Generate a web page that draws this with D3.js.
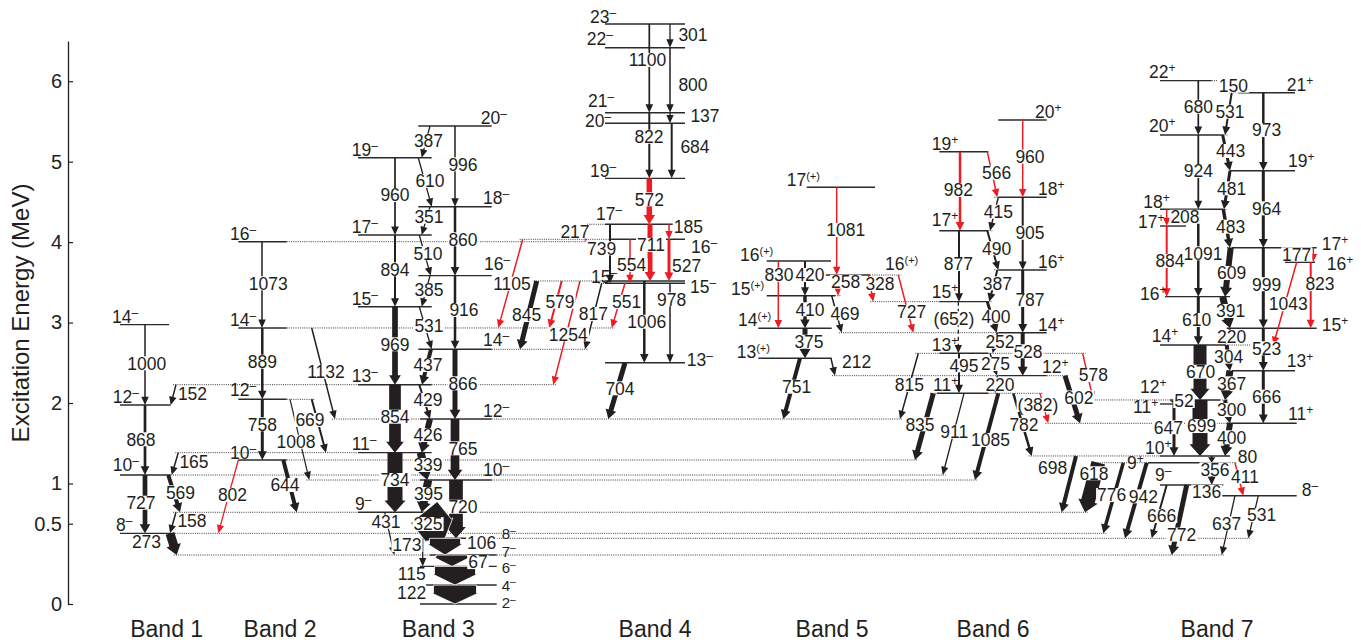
<!DOCTYPE html>
<html>
<head>
<meta charset="utf-8">
<script src="https://cdn.jsdelivr.net/npm/d3@7"></script>
<style>
  body { margin: 0; background: #fff; }
  svg { display: block; font-family: "Liberation Sans", Arial, Helvetica, sans-serif; }
</style>
</head>
<body>
<svg id="chart" width="1361" height="643"></svg>
<script>
// ---------- axis ----------
const tickValues = [0, 0.5, 1, 2, 3, 4, 5, 6];
const bandNames = ["Band 1", "Band 2", "Band 3", "Band 4", "Band 5", "Band 6", "Band 7"];

// ---------- levels: id, spin-parity, excitation energy (MeV) ----------
const band1Levels = [["b1_14","14-",2.974],["b1_12","12-",1.975],["b1_10","10-",1.105],["b1_8","8-",0.440]];
const band2Levels = [["b2_16","16-",4.005],["b2_14","14-",2.933],["b2_12","12-",2.046],["b2_10","10-",1.292]];
const band3Levels = [
  ["b3_20","20-",5.443],["b3_19","19-",5.049],["b3_18","18-",4.440],["b3_17","17-",4.089],
  ["b3_16","16-",3.583],["b3_15","15-",3.197],["b3_14","14-",2.668],["b3_13","13-",2.228],
  ["b3_12","12-",1.801],["b3_11","11-",1.383],["b3_10","10-",1.043],["b3_9","9-",0.642],
  ["b3_8","8-",0.409],["b3_7","7-",0.305],["b3_6","6-",0.234],["b3_4","4-",0.118],["b3_2","2-",0]
];
const band4Levels = [
  ["b4_23","23-",6.711],["b4_22","22-",6.417],["b4_21","21-",5.609],["b4_20","20-",5.477],
  ["b4_19","19-",4.793],["b4_17","17-",4.222],["b4_16","16-",4.035],["b4_15a","15-",3.517],
  ["b4_15b","15-",3.489],["b4_13","13-",2.501]
];
const band5Levels = [
  ["b5_17","17(+)",4.682],["b5_16a","16(+)",3.765],["b5_16b","16(+)",3.591],
  ["b5_15","15(+)",3.334],["b5_14","14(+)",2.929],["b5_13","13(+)",2.556]
];
const band6Levels = [
  ["b6_20","20+",5.518],["b6_19","19+",5.124],["b6_18","18+",4.557],["b6_17","17+",4.142],
  ["b6_16","16+",3.654],["b6_15","15+",3.260],["b6_14","14+",2.874],["b6_13","13+",2.618],
  ["b6_12","12+",2.340],["b6_11","11+",2.121]
];
const band7Levels = [
  ["b7_22","22+",6.007],["b7_21","21+",5.857],["b7_20","20+",5.332],["b7_19","19+",4.888],
  ["b7_18","18+",4.408],["b7_17a","17+",4.200],["b7_17b","17+",3.931],["b7_16b","16+",3.749],
  ["b7_16a","16+",3.322],["b7_15","15+",2.929],["b7_14","14+",2.721],["b7_13","13+",2.402],
  ["b7_12","12+",2.038],["b7_11a","11+",1.988],["b7_11b","11+",1.748],["b7_10","10+",1.342],
  ["b7_9p","9+",1.258],["b7_9m","9-",0.981],["b7_8m","8-",0.848]
];

// ---------- gamma transitions: label, from, to, relative intensity, new (red), tentative ----------
const band1Gammas = [
  ["1000","b1_14","b1_12",1.5,0],["868","b1_12","b1_10",2.7,0],["727","b1_10","b1_8",4.7,0],
  ["152","b3_13","b1_12",1.5,0],["165","b3_11","b1_10",1.5,0],["569","b1_10","b3_9",4,0],
  ["158","b3_9","b1_8",1.5,0],["273","b1_8","b3_7",9,0]
];
const band2Gammas = [
  ["1073","b2_16","b2_14",1.5,0],["889","b2_14","b2_12",2.5,0],["758","b2_12","b2_10",3,0],
  ["1132","b2_14","b3_12",1.5,0],["669","b2_12","b3_11",2,0],["1008","b2_12","b3_10",1.2,0],
  ["644","b2_10","b3_9",4,0],["802","b2_10","b1_8",1.3,1]
];
const band3Gammas = [
  ["960","b3_19","b3_17",1.7,0],["894","b3_17","b3_15",2,0],["969","b3_15","b3_13",5.7,0],
  ["854","b3_13","b3_11",11.7,0],["734","b3_11","b3_9",15,0],
  ["996","b3_20","b3_18",1.5,0],["860","b3_18","b3_16",2.5,0],["916","b3_16","b3_14",2.5,0],
  ["866","b3_14","b3_12",5,0],["765","b3_12","b3_10",8.7,0],["720","b3_10","b3_8",13.7,0],
  ["387","b3_20","b3_19",1.3,0],["610","b3_19","b3_18",1.3,0],["351","b3_18","b3_17",1.3,0],
  ["510","b3_17","b3_16",1.3,0],["385","b3_16","b3_15",1.3,0],["531","b3_15","b3_14",1.3,0],
  ["437","b3_14","b3_13",4,0],["429","b3_13","b3_12",2,0],["426","b3_12","b3_11",6,0],
  ["339","b3_11","b3_10",8,0],["395","b3_10","b3_9",8,0],["325","b3_9","b3_8",34,0],
  ["431","b3_9","b3_7",1.3,0],["173","b3_8","b3_6",1.3,0],["106","b3_8","b3_7",31,0],
  ["67","b3_7","b3_6",32,0],["115","b3_6","b3_4",41,0],["122","b3_4","b3_2",43,0]
];
const band4Gammas = [
  ["301","b4_23","b4_22",1.3,0],["1100","b4_23","b4_21",1.7,0],["800","b4_22","b4_21",1.5,0],
  ["137","b4_21","b4_20",1.3,0],["822","b4_21","b4_19",2,0],["684","b4_20","b4_19",2,0],
  ["572","b4_19","b4_17",5.5,1],["711","b4_17","b4_15a",5,1],["185","b4_17","b4_16",1.5,1],
  ["527","b4_16","b4_15a",3,1],["554","b4_16","b4_15b",1.5,1],["739","b4_17","b4_15b",2,0],
  ["217","b4_17","b2_16",1.5,1],["1006","b4_15a","b4_13",2.5,0],["978","b4_15b","b4_13",1.5,0],
  ["704","b4_13","b3_12",5,0],["551","b4_15b","b2_14",1.5,1],["817","b4_15b","b3_14",1.5,0],
  ["1254","b4_15a","b3_13",1.5,1],["579","b4_15a","b2_14",2,1],["845","b4_15a","b3_14",5,0],
  ["1105","b4_16","b2_14",1.5,1]
];
const band5Gammas = [
  ["1081","b5_17","b5_16b",1.5,1],["830","b5_16a","b5_14",1.5,1],["420","b5_16a","b5_15",2,0],
  ["258","b5_16b","b5_15",1.5,1],["328","b5_16b","b6_15",1.5,1],["727","b5_16b","b6_14",1.5,1],
  ["410","b5_15","b5_14",3.5,0],["469","b5_15","b6_14",1.5,0],["375","b5_14","b5_13",5,0],
  ["212","b5_13","b6_12",1.5,0],["751","b5_13","b3_12",4,0]
];
const band6Gammas = [
  ["960","b6_20","b6_18",1.5,1],["982","b6_19","b6_17",2.5,1],["566","b6_19","b6_18",1.5,1],
  ["905","b6_18","b6_16",2,0],["415","b6_18","b6_17",1.5,0],["877","b6_17","b6_15",2,0],
  ["490","b6_17","b6_16",2,0],["787","b6_16","b6_14",3,0],["387","b6_16","b6_15",2,0],
  ["(652)","b6_15","b6_13",1.3,0,1],["400","b6_15","b6_14",3,0],["528","b6_14","b6_12",4,0],
  ["252","b6_14","b6_13",2,0],["495","b6_13","b6_11",2,0],["275","b6_13","b6_12",1.5,0],
  ["220","b6_12","b6_11",1.5,0],["815","b6_13","b3_12",1.5,0],["835","b6_11","b2_10",5,0],
  ["911","b6_11","b1_10",1.3,0],["1085","b6_11","b3_10",4,0],["782","b6_11","b7_10",2.5,0],
  ["(382)","b6_11","b7_11b",1.3,1],["602","b6_12","b7_11b",5,0],["578","b6_13","b7_12",1.5,1]
];
const band7Gammas = [
  ["680","b7_22","b7_20",1.7,0],["150","b7_22","b7_21",1.2,0],["531","b7_21","b7_20",2,0],
  ["973","b7_21","b7_19",2.5,0],["443","b7_20","b7_19",3,0],["924","b7_20","b7_18",1.8,0],
  ["964","b7_19","b7_17b",3,0],["481","b7_19","b7_18",3,0],["208","b7_18","b7_17a",1.5,1],
  ["884","b7_17a","b7_16a",2,1],["1091","b7_18","b7_16a",2.5,0],["483","b7_18","b7_17b",3.5,0],
  ["609","b7_17b","b7_16a",6,0],["177","b7_17b","b7_16b",1.5,1],["823","b7_16b","b7_15",2,1],
  ["1043","b7_16b","b7_14",1.5,1],["999","b7_17b","b7_15",3,0],["391","b7_16a","b7_15",7,0],
  ["610","b7_16a","b7_14",3,0],["220","b7_15","b7_14",2,0],["523","b7_15","b7_13",3,0],
  ["670","b7_14","b7_12",13,0],["304","b7_14","b7_13",4,0],["367","b7_13","b7_12",7,0],
  ["666","b7_13","b7_11b",3,0],["52","b7_12","b7_11a",1.3,0],["699","b7_12","b7_10",15,0],
  ["300","b7_12","b7_11b",4,0],["647","b7_11a","b7_10",3,0],["400","b7_11b","b7_10",6,0],
  ["80","b7_10","b7_9p",1.3,0],["356","b7_9p","b7_9m",2,0],["136","b7_9m","b7_8m",1.5,0],
  ["698","b7_10","b3_9",4,0],["618","b7_9p","b3_9",14,0],["776","b7_9p","b1_8",3.5,0],
  ["942","b7_9p","b3_8",4,0],["666","b7_9m","b3_8",2,0],["772","b7_9m","b3_7",5,0],
  ["637","b7_8m","b3_7",1.3,0],["531","b7_8m","b3_8",1.3,0],["411","b7_9p","b7_8m",1.5,1]
];

// ---------- layout (horizontal placement of the scheme) ----------
// level: [line start, line end, spin label x, spin label baseline offset, optional label size]
const levelLayout = {
  b1_14:[120,169,112,-2], b1_12:[120,170.7,112.7,-2], b1_10:[120,170.7,112.7,-3.7], b1_8:[120,170.7,116,-2.7],
  b2_16:[238.3,286.7,230,-2.1], b2_14:[238.3,286.7,230,-2.4], b2_12:[238.3,286.7,230,-3], b2_10:[238.3,286.7,230,-1],
  b3_20:[418.3,491.7,480.7,-2.4], b3_19:[358,431.7,351.7,-2.1], b3_18:[418.3,491.7,483,-3], b3_17:[358,431.7,351.7,-2],
  b3_16:[418.3,491.7,484,-5.5], b3_15:[358,431.7,351.7,-2.1], b3_14:[418.3,491.7,483,-3], b3_13:[358,431.7,351.7,-2.4],
  b3_12:[420,491.7,483,-2], b3_11:[358,431.7,351.7,-2.4], b3_10:[420,491.7,483,-3.7], b3_9:[358,445,355,-2.7],
  b3_8:[426,496.7,501.7,1,15], b3_7:[430,496.7,501.7,1.5,15], b3_6:[420,496.7,501.7,7,15],
  b3_4:[426,496.7,501.7,5.5,15], b3_2:[420,496.7,501.7,4.2,15],
  b4_23:[605,685,590,-0.7], b4_22:[605,685,586.7,-2.4], b4_21:[605,685,588,-5.5], b4_20:[605,685,585,4],
  b4_19:[605,685,590,-1], b4_17:[605,685,596,-4], b4_16:[610,685,691,13.5], b4_15a:[605,685,591,2],
  b4_15b:[605,685,690,10], b4_13:[605,685,686.7,2.9],
  b5_17:[806.7,875,786.7,-1], b5_16a:[766.7,831,740,0.3], b5_16b:[825,870,885,-5],
  b5_15:[766.7,835,731,-0.6], b5_14:[758.3,831.7,738,-2], b5_13:[758.3,831.7,736.7,-0.3],
  b6_20:[998.3,1046.7,1035,-2], b6_19:[939.3,988.3,931.7,-2.1], b6_18:[998.3,1046.7,1038,-2.7], b6_17:[939.3,988.3,931.7,-4.4],
  b6_16:[998.3,1046.7,1038,-2], b6_15:[939.3,988.3,931.7,-3.7], b6_14:[998.3,1046.7,1038,-1.4], b6_13:[939.3,988.3,931.7,-2.5],
  b6_12:[998.3,1046.7,1042,-2.2], b6_11:[936.7,988.3,933,-2],
  b7_22:[1160,1211.7,1149,-2.7], b7_21:[1238.3,1295,1286.7,-2.1], b7_20:[1160,1223.3,1149,-3], b7_19:[1230,1295,1288,-3.4],
  b7_18:[1160,1223.3,1143.3,-1.3], b7_17a:[1160,1186,1138,2], b7_17b:[1231.7,1316.7,1321.7,2], b7_16b:[1285,1315,1326.7,7.3],
  b7_16a:[1165,1230,1140,3], b7_15:[1226.7,1316.7,1321.7,3], b7_14:[1160,1225,1151.7,-2.7], b7_13:[1231.7,1295,1286.7,-3.7],
  b7_12:[1170,1220,1140,-6.5], b7_11a:[1160,1183.3,1133,9], b7_11b:[1226.7,1296.7,1288,-3.7], b7_10:[1160,1230,1145,-1.8],
  b7_9p:[1148,1230,1127,5.8], b7_9m:[1160,1223.3,1155,-3.7], b7_8m:[1205,1296.7,1301.7,0.6]
};
// transition: [x at upper level, x at lower level, label x, label energy]
const band1GammaPos = [[145,145,146.7,2.494],[145,145,141,1.549],[145,145,141,0.761],[176,170.7,192.5,2.121],
  [178.3,171.7,194,1.271],[168.3,180,180.5,0.890],[176,170,192,0.537],[170,176.7,146.5,0.388]];
const band2GammaPos = [[262,262,268.3,3.488],[262.3,262.3,262.3,2.514],[262.3,262.3,262.3,1.736],[311.7,335,326,2.389],
  [311.7,326,310,1.789],[290,309.3,296,1.519],[283.3,296.7,285,0.981],[238.3,218.3,232.5,0.857]];
const band3GammaPos = [[395,395,395,4.586],[395,395,395,3.662],[395,395,395,2.730],[395,395,395,1.830],[395,395,395,1.043],
  [455,455,463,4.967],[455,455,463,4.035],[455,455,464,3.156],[455,455,463,2.245],[455,455,463,1.437],[456,456,463,0.711],
  [430,421.7,428.5,5.261],[418.3,431.7,430,4.760],[430,421.7,429,4.316],[419.3,430.7,428,3.861],[430,421.7,429,3.405],
  [419.3,431.7,429,2.957],[431,422,428,2.473],[419.3,430,428,2.038],[430,421.7,428,1.603],[420.7,427.3,428,1.230],
  [428.3,421.7,428.5,0.869],[424,445,428,0.498],[384.7,394.3,386,0.525],[422.7,422.7,407,0.367],[445,445,481.7,0.384],
  [452,452,478,0.261],[455,455,411.7,0.187],[455,455,411.7,0.070]];
const band4GammaPos = [[670,670,693,6.575],[649.3,649.3,647.5,6.264],[670,670,693,5.953],[670,670,705,5.568],
  [649.3,649.3,649,5.310],[671.7,671.7,695,5.186],[649.3,649.3,649.3,4.532],[650,650,651,3.964],[669,669,688.3,4.190],
  [669,669,686.7,3.710],[630,630,631.7,3.716],[610,610,601.7,3.923],[590,585,575,4.130],[644.3,644.3,646.7,3.010],
  [670,670,671.7,3.289],[625,608.3,620,2.183],[625,611.7,626.7,3.255],[601.7,585,593.3,3.107],[580,553.3,568.3,2.854],
  [561.7,549.3,560,3.260],[536.7,520,526.7,3.094],[522.7,498.3,512,3.483]];
const band5GammaPos = [[836.7,836.7,845.7,4.151],[778.3,778.3,779,3.594],[805,805,810,3.591],[837,838.3,845.7,3.508],
  [868.3,873.3,880,3.480],[898.3,913.3,911.7,3.135],[805,805,810,3.165],[831.7,841.7,845,3.115],[805,805,809,2.762],
  [831,835,856.7,2.514],[800,783.3,796.7,2.203]];
const band6GammaPos = [[1022.7,1022.7,1030,5.062],[960,960,958.3,4.648],[987.3,997.3,996.7,4.863],[1022.7,1022.7,1030,4.117],
  [998.3,990,998.3,4.378],[959,959,958.3,3.728],[987.3,998.3,996.7,3.923],[1022.7,1022.7,1030,3.281],[997.3,989.3,997.3,3.488],
  [958.3,958.3,954,3.053],[987.3,996.7,996,3.073],[1022.7,1022.7,1028,2.643],[997.3,992.7,1000,2.762],[959,959,964,2.468],
  [990,997,995.5,2.485],[997.3,995,1000,2.233],[918.3,900,909.3,2.224],[933.3,915,920,1.736],[964,942.7,954.3,1.644],
  [998.3,975,990.5,1.540],[1013.3,1031.7,1024,1.727],[1040,1048.3,1038,1.975],[1065,1080,1078.8,2.069],[1082.7,1093.3,1093.3,2.348]];
const band7GammaPos = [[1198.3,1198.3,1198.3,5.683],[1222,1236,1233.3,5.944],[1231.7,1225,1230,5.621],[1263.3,1263.3,1266.7,5.394],
  [1222.7,1230,1230.7,5.133],[1198.3,1198.3,1198.3,4.884],[1263.3,1263.3,1266.7,4.420],[1230,1224,1231.7,4.669],
  [1166.7,1166.7,1185,4.316],[1166.7,1166.7,1170,3.765],[1198.3,1198.3,1203,3.861],[1223.3,1230,1230.7,4.192],
  [1230.7,1225,1231.7,3.616],[1313.3,1313.3,1296.7,3.849],[1310.7,1310.7,1320,3.480],[1296.7,1273.3,1288.3,3.229],
  [1263.3,1263.3,1266.7,3.477],[1222.7,1230,1230.7,3.144],[1198.3,1198.3,1196.7,3.032],[1230,1225,1231.7,2.824],
  [1263.3,1263.3,1266.7,2.680],[1200,1200,1200.7,2.389],[1226.7,1230,1228.7,2.576],[1230,1225,1231.7,2.245],
  [1263.3,1263.3,1266.7,2.079],[1174,1174,1184,2.025],[1200,1200,1201.7,1.714],[1225,1230,1231.7,1.913],
  [1174,1174,1168.3,1.698],[1230,1225,1231.7,1.574],[1211.7,1211.7,1247.5,1.328],[1211.7,1211.7,1215,1.176],
  [1211.7,1211.7,1206.7,0.898],[1076,1061.7,1052.7,1.201],[1098.3,1085,1094,1.127],[1123.3,1103.3,1111.7,0.857],
  [1146.7,1125,1143.3,0.840],[1166.7,1151.7,1161.7,0.596],[1186.7,1171.7,1181.7,0.432],[1235,1221.7,1226.7,0.505],
  [1258.3,1248.3,1261.7,0.608],[1235,1243.3,1245,1.084]];
const bandLabelX = [166.7, 280, 438.3, 655, 832, 993, 1217];

// ---------- scales ----------
// the low-lying part (below 0.5 MeV) is drawn on a stretched scale
const y = d3.scaleLinear().domain([0, 0.5, 6.5]).range([604, 523.7, 41]);
const x = d3.scaleLinear().domain([0, 1361]).range([0, 1361]);

const BLACK = "#231f20", RED = "#ec1c24";
const FONT = 17.5;

const levels = [].concat(band1Levels, band2Levels, band3Levels, band4Levels, band5Levels, band6Levels, band7Levels)
  .map(([id, spin, E]) => ({ id, spin, E, lay: levelLayout[id] }));
const levelById = new Map(levels.map(d => [d.id, d]));

const gammaSets = [
  [band1Gammas, band1GammaPos], [band2Gammas, band2GammaPos], [band3Gammas, band3GammaPos],
  [band4Gammas, band4GammaPos], [band5Gammas, band5GammaPos], [band6Gammas, band6GammaPos],
  [band7Gammas, band7GammaPos]
];
const gammas = [];
gammaSets.forEach(([data, pos]) => data.forEach((g, i) => {
  const p = pos[i];
  gammas.push({ label: g[0], from: levelById.get(g[1]), to: levelById.get(g[2]), w: g[3],
    red: !!g[4], dashed: !!g[5], x1: p[0], x2: p[1], lx: p[2], lE: p[3] });
}));

const svg = d3.select("#chart");

// ---------- dotted extensions of levels out to the far ends of their transitions ----------
const reach = new Map();
gammas.forEach(g => {
  [[g.from.id, g.x1], [g.to.id, g.x2]].forEach(([id, xx]) => {
    const r = reach.get(id) || [Infinity, -Infinity];
    r[0] = Math.min(r[0], xx); r[1] = Math.max(r[1], xx);
    reach.set(id, r);
  });
});
const dotted = [];
levels.forEach(l => {
  const r = reach.get(l.id); if (!r) return;
  if (r[0] < l.lay[0] - 0.5) dotted.push([r[0] - 3, l.lay[0], l.E]);
  if (r[1] > l.lay[1] + 0.5) dotted.push([l.lay[1], r[1] + 3, l.E]);
});
svg.append("g").selectAll("line").data(dotted).join("line")
  .attr("x1", d => x(d[0])).attr("x2", d => x(d[1]))
  .attr("y1", d => y(d[2])).attr("y2", d => y(d[2]))
  .attr("stroke", "#3a3a3a").attr("stroke-width", 1).attr("stroke-dasharray", "1,1.2");

// ---------- level lines ----------
svg.append("g").selectAll("line").data(levels).join("line")
  .attr("x1", d => x(d.lay[0])).attr("x2", d => x(d.lay[1]))
  .attr("y1", d => y(d.E)).attr("y2", d => y(d.E))
  .attr("stroke", "#2b2b2b").attr("stroke-width", 1.4);

// ---------- transition arrows ----------
function headSize(w) {
  if (w >= 25) return [w + 4, 11];
  return [Math.max(7, w + 6), 8 + w * 0.25];
}
function arrowGeom(g) {
  const x1 = x(g.x1), y1 = y(g.from.E), x2 = x(g.x2), y2 = y(g.to.E);
  const dx = x2 - x1, dy = y2 - y1, L = Math.hypot(dx, dy);
  const ux = dx / L, uy = dy / L, nx = -uy, ny = ux;
  let [hw, hl] = headSize(g.w);
  hl = Math.min(hl, L * 0.8);
  const bx = x2 - ux * hl, by = y2 - uy * hl, w = g.w;
  return { x1, y1, x2, y2, bx, by,
    head: [[bx + nx * hw / 2, by + ny * hw / 2], [x2, y2], [bx - nx * hw / 2, by - ny * hw / 2]],
    full: [[x1 + nx * w / 2, y1 + ny * w / 2], [bx + nx * w / 2, by + ny * w / 2], [bx + nx * hw / 2, by + ny * hw / 2],
      [x2, y2], [bx - nx * hw / 2, by - ny * hw / 2], [bx - nx * w / 2, by - ny * w / 2], [x1 - nx * w / 2, y1 - ny * w / 2]] };
}
const poly = d3.line().curve(d3.curveLinearClosed);
const gArrows = svg.append("g");
gammas.forEach(g => {
  const a = arrowGeom(g), col = g.red ? RED : BLACK;
  if (g.dashed) {
    gArrows.append("line").attr("x1", a.x1).attr("y1", a.y1).attr("x2", a.bx).attr("y2", a.by)
      .attr("stroke", col).attr("stroke-width", g.w).attr("stroke-dasharray", "4,3");
    gArrows.append("path").attr("d", poly(a.head)).attr("fill", col);
  } else {
    const p = gArrows.append("path").attr("d", poly(a.full)).attr("fill", col);
    if (g.w >= 20) p.attr("stroke", "#fff").attr("stroke-width", 0.8).attr("stroke-linejoin", "round");
  }
});

// ---------- gamma-energy labels (white backing interrupts the arrows) ----------
const gLab = svg.append("g").attr("font-size", FONT).attr("fill", BLACK).attr("text-anchor", "middle");
gammas.forEach(g => {
  const cx = x(g.lx), cy = y(g.lE);
  const t = gLab.append("text").attr("x", cx).attr("y", cy + 6.3).text(g.label);
  const bb = t.node().getBBox();
  gLab.insert("rect", () => t.node())
    .attr("x", bb.x - 1).attr("y", cy - 7).attr("width", bb.width + 2).attr("height", 14)
    .attr("fill", "#fff");
});

// ---------- spin-parity labels ----------
const gSpin = svg.append("g").attr("fill", BLACK);
levels.forEach(l => {
  const m = l.spin.match(/^(\d+)(.*)$/);
  const fs = l.lay[4] || FONT, k = fs / FONT;
  const t = gSpin.append("text").attr("font-size", fs)
    .attr("x", x(l.lay[2])).attr("y", y(l.E) + l.lay[3]);
  t.append("tspan").text(m[1]);
  const par = m[2] === "-" ? "\u2013" : m[2];
  t.append("tspan").attr("dy", -6 * k).attr("font-size", (m[2].length > 1 ? 11 : 12) * k).text(par);
});

// ---------- axis ----------
const axis = d3.axisLeft(y).tickValues(tickValues).tickSizeInner(-5).tickSizeOuter(0).tickPadding(6)
  .tickFormat(d => String(d));
const gAxis = svg.append("g").attr("transform", "translate(68,0)").call(axis);
gAxis.attr("color", BLACK).attr("font-family", null);
gAxis.select(".domain").attr("stroke-width", 1.3);
gAxis.selectAll(".tick line").attr("stroke-width", 1.2);
gAxis.selectAll("text").attr("font-size", 20).attr("fill", BLACK);

svg.append("text").attr("transform", "translate(28.5,313) rotate(-90)")
  .attr("text-anchor", "middle").attr("font-size", 24).attr("fill", BLACK)
  .text("Excitation Energy (MeV)");

// ---------- band names ----------
svg.append("g").selectAll("text").data(bandNames).join("text")
  .attr("x", (d, i) => x(bandLabelX[i])).attr("y", 637)
  .attr("text-anchor", "middle").attr("font-size", 23).attr("fill", BLACK)
  .text(d => d);
</script>
</body>
</html>
